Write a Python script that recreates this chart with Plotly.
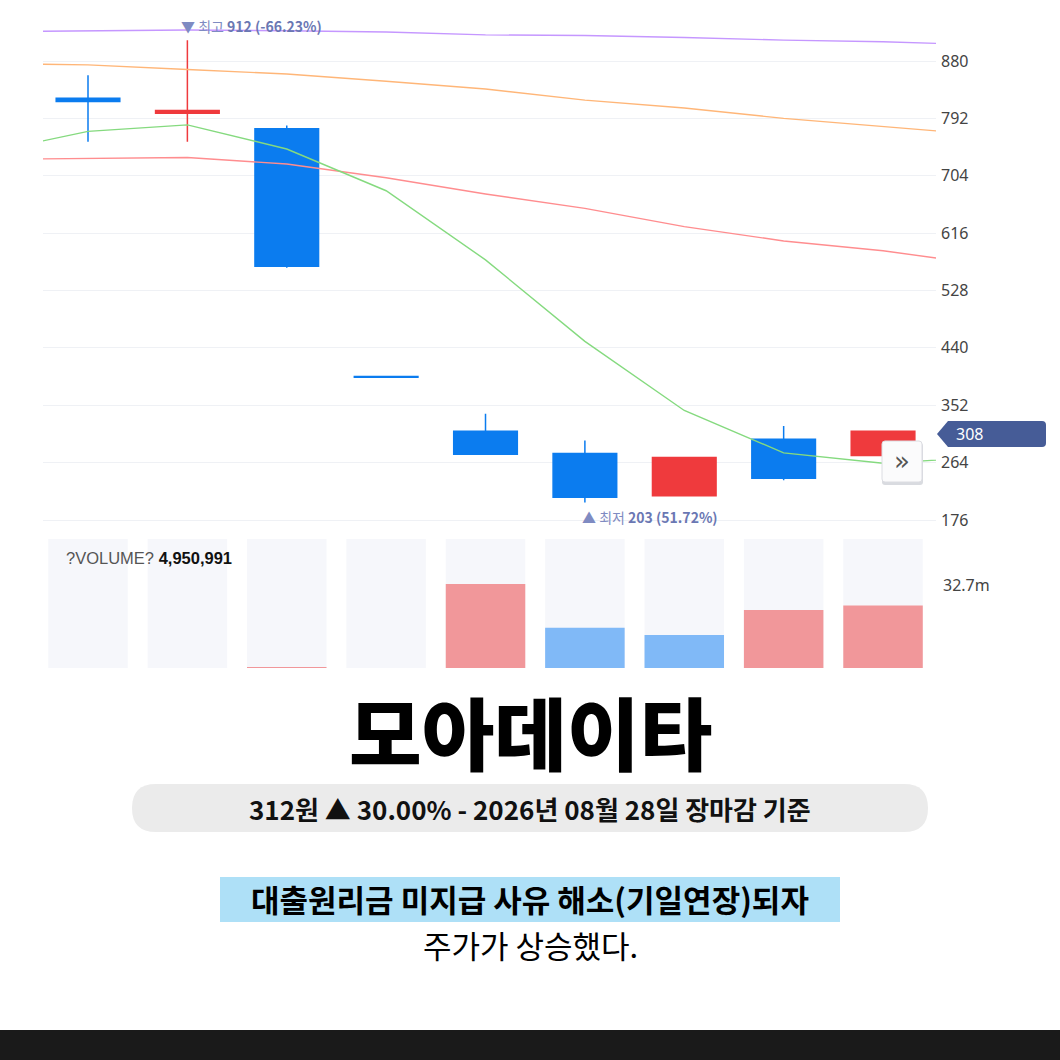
import plotly.graph_objects as go

W = H = 1060


def px(x):
    return x / W


def py(y):
    return 1 - y / H


# ---------------- data ----------------
periods = ["P1", "P2", "P3", "P4", "P5", "P6", "P7", "P8", "P9"]
open_ = [823, 800, 776, 396, 312, 278, 213, 300, 275]
high = [858, 912, 781, 396, 339, 298, 272, 320, 312]
low = [756, 756, 563, 395, 277, 203, 213, 237, 275]
close = [818, 804, 565, 395, 277, 211, 272, 240, 312]

# moving averages (one point before and after the visible window)
ma_pos = list(range(-1, 10))
ma_green = [740, 772, 782, 745, 681, 575, 450, 344, 279, 263, 272]
ma_red = [729, 731, 732, 722, 701, 676, 654, 626, 604, 589, 568]
ma_orange = [876, 874, 867, 860, 849, 837, 820, 808, 792, 780, 767]
ma_purple = [925, 926, 927.5, 926.5, 924.5, 920, 919, 916, 912, 909.5, 905]

volume = [0, 0, 0.3e6, 0, 32.7e6, 15.7e6, 12.8e6, 22.6e6, 24.3e6]
volume_up = [True, True, True, True, True, False, False, True, True]

price_ticks = [176, 264, 352, 440, 528, 616, 704, 792, 880]

# ---------------- style ----------------
UP = "#ef3a3d"
DOWN = "#0b7cef"
VOL_UP = "#f1979a"
VOL_DOWN = "#80b9f7"
VOL_BG = "#f6f7fb"
KR = "Noto Sans CJK KR"

x_idx = list(range(len(periods)))
x_range = [-0.4528, 8.533]
vol_max = 50.2e6

fig = go.Figure()

# MA lines
for vals, col in [(ma_purple, "#c597ff"), (ma_orange, "#ffb678"),
                  (ma_red, "#ff8d8f"), (ma_green, "#85da7f")]:
    fig.add_trace(go.Scatter(x=ma_pos, y=vals, mode="lines",
                             line=dict(color=col, width=1.4),
                             hoverinfo="skip", showlegend=False,
                             xaxis="x", yaxis="y"))

fig.add_trace(go.Candlestick(
    x=x_idx, open=open_, high=high, low=low, close=close,
    increasing=dict(line=dict(color=UP, width=1.5), fillcolor=UP),
    decreasing=dict(line=dict(color=DOWN, width=1.5), fillcolor=DOWN),
    showlegend=False, xaxis="x", yaxis="y"))

# Volume panel
fig.add_trace(go.Bar(x=x_idx, y=[vol_max] * len(x_idx), marker_color=VOL_BG,
                     width=0.8, marker_line_width=0, hoverinfo="skip",
                     showlegend=False, xaxis="x2", yaxis="y2"))
fig.add_trace(go.Bar(x=x_idx, y=volume,
                     marker_color=[VOL_UP if u else VOL_DOWN for u in volume_up],
                     width=0.8, marker_line_width=0, showlegend=False,
                     xaxis="x2", yaxis="y2"))

xdom = [px(43), px(936)]
fig.update_layout(
    width=W, height=H,
    margin=dict(l=0, r=0, t=0, b=0),
    paper_bgcolor="white", plot_bgcolor="white",
    boxgap=0.2, boxgroupgap=0.2,
    barmode="overlay",
    font=dict(family=KR, color="#333"),
    xaxis=dict(domain=xdom, range=x_range, visible=False,
               rangeslider=dict(visible=False), fixedrange=True),
    yaxis=dict(domain=[py(530), py(20)], range=[160.66, 942.88],
               side="right", tickvals=price_ticks,
               ticktext=[str(t) for t in price_ticks],
               showgrid=True, gridcolor="#eff1f5", gridwidth=1,
               zeroline=False, showline=False, ticks="",
               ticklabelstandoff=4,
               tickfont=dict(size=16, color="#444", family="Noto Sans")),
    xaxis2=dict(domain=xdom, range=x_range, visible=False, anchor="y2",
                fixedrange=True),
    yaxis2=dict(domain=[py(668), py(539)], range=[0, vol_max],
                visible=False, anchor="x2"),
)

annotations = [
    dict(xref="x", yref="y", x=1, y=912, xanchor="left", yanchor="middle",
         xshift=-8, yshift=14, showarrow=False,
         text="<span style='color:#7f8bc2'>▼ 최고</span> <b>912 (-66.23%)</b>",
         font=dict(size=14, color="#6a77b3", family=KR)),
    dict(xref="x", yref="y", x=5, y=203, xanchor="left", yanchor="middle",
         xshift=-5, yshift=-15, showarrow=False,
         text="<span style='color:#7f8bc2'>▲ 최저</span> <b>203 (51.72%)</b>",
         font=dict(size=14, color="#6a77b3", family=KR)),
    dict(xref="paper", yref="paper", x=px(64), y=py(558), xanchor="left",
         yanchor="middle", showarrow=False,
         text="<span style='color:#555'>?VOLUME?</span> <b>4,950,991</b>",
         font=dict(size=16.5, color="#111", family="Liberation Sans")),
    dict(xref="paper", yref="paper", x=px(941), y=py(585), xanchor="left",
         yanchor="middle", showarrow=False, text="32.7m",
         font=dict(size=16, color="#444", family="Noto Sans")),
    dict(xref="paper", yref="paper", x=px(969), y=py(434), xanchor="center",
         yanchor="middle", showarrow=False, text="308",
         font=dict(size=16, color="white", family="Noto Sans")),
    dict(xref="paper", yref="paper", x=px(902), y=py(461), xanchor="center",
         yanchor="middle", showarrow=False, text="»",
         font=dict(size=26, color="#555", family="DejaVu Sans")),
    # Title
    dict(xref="paper", yref="paper", x=0.5, y=py(730), xanchor="center",
         yanchor="middle", showarrow=False, text="모아데이타",
         font=dict(size=79, color="#000", family=KR, weight=900)),
    dict(xref="paper", yref="paper", x=0.5, y=py(808), xanchor="center",
         yanchor="middle", showarrow=False,
         text="312원 ▲ 30.00% - 2026년 08월 28일 장마감 기준",
         font=dict(size=26, color="#111", family=KR, weight=700)),
    dict(xref="paper", yref="paper", x=0.5, y=py(898), xanchor="center",
         yanchor="middle", showarrow=False,
         text="대출원리금 미지급 사유 해소(기일연장)되자",
         font=dict(size=31, color="#000", family=KR, weight=700)),
    dict(xref="paper", yref="paper", x=0.5, y=py(944), xanchor="center",
         yanchor="middle", showarrow=False, text="주가가 상승했다.",
         font=dict(size=31, color="#000", family=KR, weight=400)),
]
fig.update_layout(annotations=annotations)


def P(x, y):
    return f"{px(x):.5f},{py(y):.5f}"


def rounded_rect(x0, y0, x1, y1, r):
    return (f"M {P(x0 + r, y0)} L {P(x1 - r, y0)} Q {P(x1, y0)} {P(x1, y0 + r)} "
            f"L {P(x1, y1 - r)} Q {P(x1, y1)} {P(x1 - r, y1)} "
            f"L {P(x0 + r, y1)} Q {P(x0, y1)} {P(x0, y1 - r)} "
            f"L {P(x0, y0 + r)} Q {P(x0, y0)} {P(x0 + r, y0)} Z")


shapes = [
    # price flag
    dict(type="path", xref="paper", yref="paper", layer="above",
         path=(f"M {P(937, 434)} L {P(948, 421)} L {P(1042, 421)} "
               f"Q {P(1046, 421)} {P(1046, 425)} L {P(1046, 443)} "
               f"Q {P(1046, 447)} {P(1042, 447)} L {P(948, 447)} Z"),
         fillcolor="#465c97", line=dict(width=0)),
    # button shadow + button
    dict(type="path", xref="paper", yref="paper", layer="above",
         path=rounded_rect(882, 443, 923, 485, 3),
         fillcolor="#d9dbe0", line=dict(width=0)),
    dict(type="path", xref="paper", yref="paper", layer="above",
         path=rounded_rect(882, 441, 922, 482, 3),
         fillcolor="#fbfbfc", line=dict(color="#dcdde2", width=1)),
    # subtitle pill
    dict(type="path", xref="paper", yref="paper", layer="below",
         path=rounded_rect(132, 784, 928, 832, 24),
         fillcolor="#ebebeb", line=dict(width=0)),
    # highlight
    dict(type="rect", xref="paper", yref="paper", layer="below",
         x0=px(220), x1=px(840), y0=py(922), y1=py(877),
         fillcolor="#aee0f7", line=dict(width=0)),
    # bottom band
    dict(type="rect", xref="paper", yref="paper", layer="below",
         x0=0, x1=1, y0=0, y1=py(1030),
         fillcolor="#1a1a1a", line=dict(width=0)),
]
fig.update_layout(shapes=shapes)

fig.write_html("out.html",
               config={"displayModeBar": False},
               post_script="document.body.style.margin='0';"
                           "document.body.style.overflow='hidden';")
